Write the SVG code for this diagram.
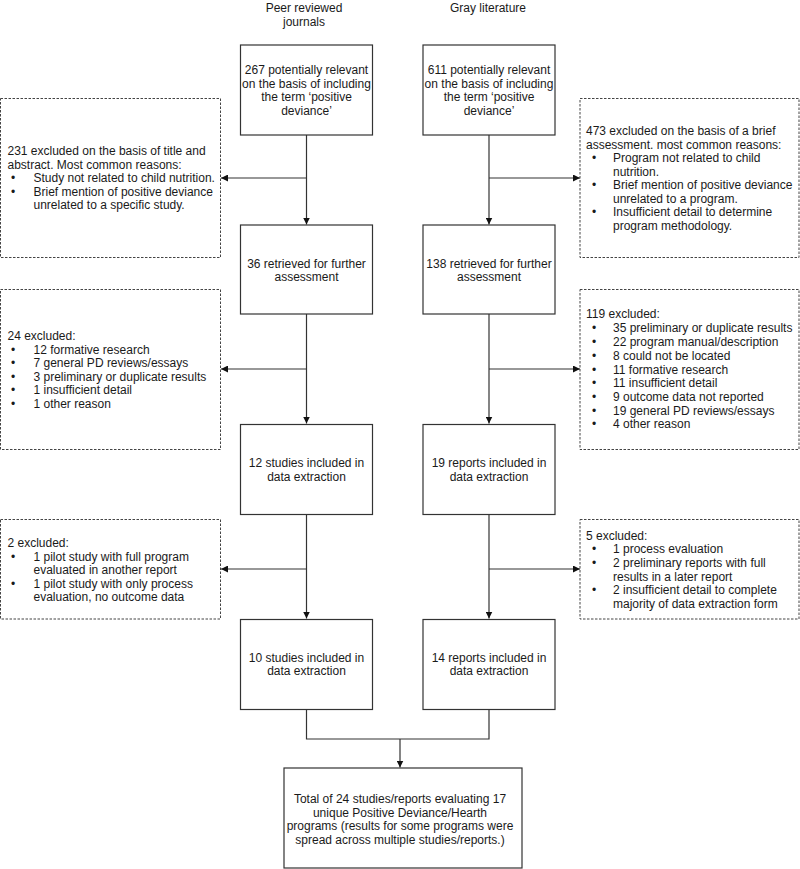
<svg xmlns="http://www.w3.org/2000/svg" width="800" height="869" viewBox="0 0 800 869">
<defs>
<style>
text{font-family:"Liberation Sans",Arial,sans-serif;font-size:12px;fill:#1a1a1a}
.c{text-anchor:middle}
.box{fill:#fff;stroke:#333;stroke-width:1.2}
.dbox{fill:#fff;stroke:#444;stroke-width:1;stroke-dasharray:2.5,1.5}
.ln{fill:none;stroke:#333;stroke-width:1.2}
</style>
<marker id="ah" viewBox="0 0 10 10" refX="10" refY="5" markerWidth="7" markerHeight="7" markerUnits="userSpaceOnUse" orient="auto">
<path d="M0,0 L10,5 L0,10 z" fill="#111"/>
</marker>
</defs>
<rect width="800" height="869" fill="#fff"/>

<g id="headers">
<text class="c" x="304" y="12">Peer reviewed</text>
<text class="c" x="304" y="26">journals</text>
<text class="c" x="488" y="12">Gray literature</text>
</g>

<g id="connectors">
<path class="ln" d="M306.5,135 V224.5" marker-end="url(#ah)"/>
<path class="ln" d="M306.5,178 H221" marker-end="url(#ah)"/>
<path class="ln" d="M489,135 V224.5" marker-end="url(#ah)"/>
<path class="ln" d="M489,178 H580" marker-end="url(#ah)"/>
<path class="ln" d="M306.5,314 V423.5" marker-end="url(#ah)"/>
<path class="ln" d="M306.5,369 H221" marker-end="url(#ah)"/>
<path class="ln" d="M489,314 V423.5" marker-end="url(#ah)"/>
<path class="ln" d="M489,369 H580" marker-end="url(#ah)"/>
<path class="ln" d="M306.5,514 V618.5" marker-end="url(#ah)"/>
<path class="ln" d="M306.5,569 H221" marker-end="url(#ah)"/>
<path class="ln" d="M489,514 V618.5" marker-end="url(#ah)"/>
<path class="ln" d="M489,569 H580" marker-end="url(#ah)"/>
<path class="ln" d="M306.5,709 V739 H489 V709"/>
<path class="ln" d="M400,739 V767.5" marker-end="url(#ah)"/>
</g>

<g id="pr1">
<rect class="box" x="240.5" y="45" width="132" height="90"/>
<text class="c" x="306.5" y="74">267 potentially relevant</text>
<text class="c" x="306.5" y="87.5">on the basis of including</text>
<text class="c" x="306.5" y="101">the term ‘positive</text>
<text class="c" x="306.5" y="114.5">deviance’</text>
</g>
<g id="gl1">
<rect class="box" x="423" y="45" width="132" height="90"/>
<text class="c" x="489" y="74">611 potentially relevant</text>
<text class="c" x="489" y="87.5">on the basis of including</text>
<text class="c" x="489" y="101">the term ‘positive</text>
<text class="c" x="489" y="114.5">deviance’</text>
</g>

<g id="exA_left">
<rect class="dbox" x="0.5" y="98.5" width="220" height="159"/>
<text x="7.5" y="155">231 excluded on the basis of title and</text>
<text x="7.5" y="168.5">abstract. Most common reasons:</text>
<text x="11" y="182">•</text><text x="33.5" y="182">Study not related to child nutrition.</text>
<text x="11" y="195.5">•</text><text x="33.5" y="195.5">Brief mention of positive deviance</text>
<text x="33.5" y="209">unrelated to a specific study.</text>
</g>
<g id="exA_right">
<rect class="dbox" x="580" y="98.5" width="219" height="159"/>
<text x="586" y="135">473 excluded on the basis of a brief</text>
<text x="586" y="148.5">assessment. most common reasons:</text>
<text x="592" y="162">•</text><text x="613" y="162">Program not related to child</text>
<text x="613" y="175.5">nutrition.</text>
<text x="592" y="189">•</text><text x="613" y="189">Brief mention of positive deviance</text>
<text x="613" y="202.5">unrelated to a program.</text>
<text x="592" y="216">•</text><text x="613" y="216">Insufficient detail to determine</text>
<text x="613" y="230">program methodology.</text>
</g>

<g id="pr2">
<rect class="box" x="240.5" y="225" width="132" height="89"/>
<text class="c" x="306.5" y="267.5">36 retrieved for further</text>
<text class="c" x="306.5" y="281">assessment</text>
</g>
<g id="gl2">
<rect class="box" x="423" y="225" width="132" height="89"/>
<text class="c" x="489" y="267.5">138 retrieved for further</text>
<text class="c" x="489" y="281">assessment</text>
</g>

<g id="exB_left">
<rect class="dbox" x="0.5" y="289.5" width="220" height="160"/>
<text x="7.5" y="340">24 excluded:</text>
<text x="11" y="353.5">•</text><text x="33.5" y="353.5">12 formative research</text>
<text x="11" y="367">•</text><text x="33.5" y="367">7 general PD reviews/essays</text>
<text x="11" y="380.5">•</text><text x="33.5" y="380.5">3 preliminary or duplicate results</text>
<text x="11" y="394">•</text><text x="33.5" y="394">1 insufficient detail</text>
<text x="11" y="408">•</text><text x="33.5" y="408">1 other reason</text>
</g>
<g id="exB_right">
<rect class="dbox" x="580" y="289.5" width="219" height="160"/>
<text x="586" y="318">119 excluded:</text>
<text x="592" y="332">•</text><text x="613" y="332">35 preliminary or duplicate results</text>
<text x="592" y="346">•</text><text x="613" y="346">22 program manual/description</text>
<text x="592" y="359.5">•</text><text x="613" y="359.5">8 could not be located</text>
<text x="592" y="373.5">•</text><text x="613" y="373.5">11 formative research</text>
<text x="592" y="387">•</text><text x="613" y="387">11 insufficient detail</text>
<text x="592" y="401">•</text><text x="613" y="401">9 outcome data not reported</text>
<text x="592" y="414.5">•</text><text x="613" y="414.5">19 general PD reviews/essays</text>
<text x="592" y="428">•</text><text x="613" y="428">4 other reason</text>
</g>

<g id="pr3">
<rect class="box" x="240.5" y="424.5" width="132" height="90"/>
<text class="c" x="306.5" y="467">12 studies included in</text>
<text class="c" x="306.5" y="480.5">data extraction</text>
</g>
<g id="gl3">
<rect class="box" x="423" y="424.5" width="132" height="90"/>
<text class="c" x="489" y="467">19 reports included in</text>
<text class="c" x="489" y="480.5">data extraction</text>
</g>

<g id="exC_left">
<rect class="dbox" x="0.5" y="519.5" width="220" height="99.5"/>
<text x="7.5" y="547">2 excluded:</text>
<text x="11" y="560.5">•</text><text x="33.5" y="560.5">1 pilot study with full program</text>
<text x="33.5" y="574">evaluated in another report</text>
<text x="11" y="587.5">•</text><text x="33.5" y="587.5">1 pilot study with only process</text>
<text x="33.5" y="601">evaluation, no outcome data</text>
</g>
<g id="exC_right">
<rect class="dbox" x="580" y="519.5" width="219" height="99.5"/>
<text x="586" y="539.5">5 excluded:</text>
<text x="592" y="553">•</text><text x="613" y="553">1 process evaluation</text>
<text x="592" y="567">•</text><text x="613" y="567">2 preliminary reports with full</text>
<text x="613" y="580.5">results in a later report</text>
<text x="592" y="594">•</text><text x="613" y="594">2 insufficient detail to complete</text>
<text x="613" y="608">majority of data extraction form</text>
</g>

<g id="pr4">
<rect class="box" x="240.5" y="619.5" width="132" height="90"/>
<text class="c" x="306.5" y="661.5">10 studies included in</text>
<text class="c" x="306.5" y="675">data extraction</text>
</g>
<g id="gl4">
<rect class="box" x="423" y="619.5" width="132" height="90"/>
<text class="c" x="489" y="661.5">14 reports included in</text>
<text class="c" x="489" y="675">data extraction</text>
</g>

<g id="total">
<rect class="box" x="284" y="768" width="238" height="100"/>
<text class="c" x="400" y="803">Total of 24 studies/reports evaluating 17</text>
<text class="c" x="400" y="816.5">unique Positive Deviance/Hearth</text>
<text class="c" x="400" y="830">programs (results for some programs were</text>
<text class="c" x="400" y="843.5">spread across multiple studies/reports.)</text>
</g>
</svg>
